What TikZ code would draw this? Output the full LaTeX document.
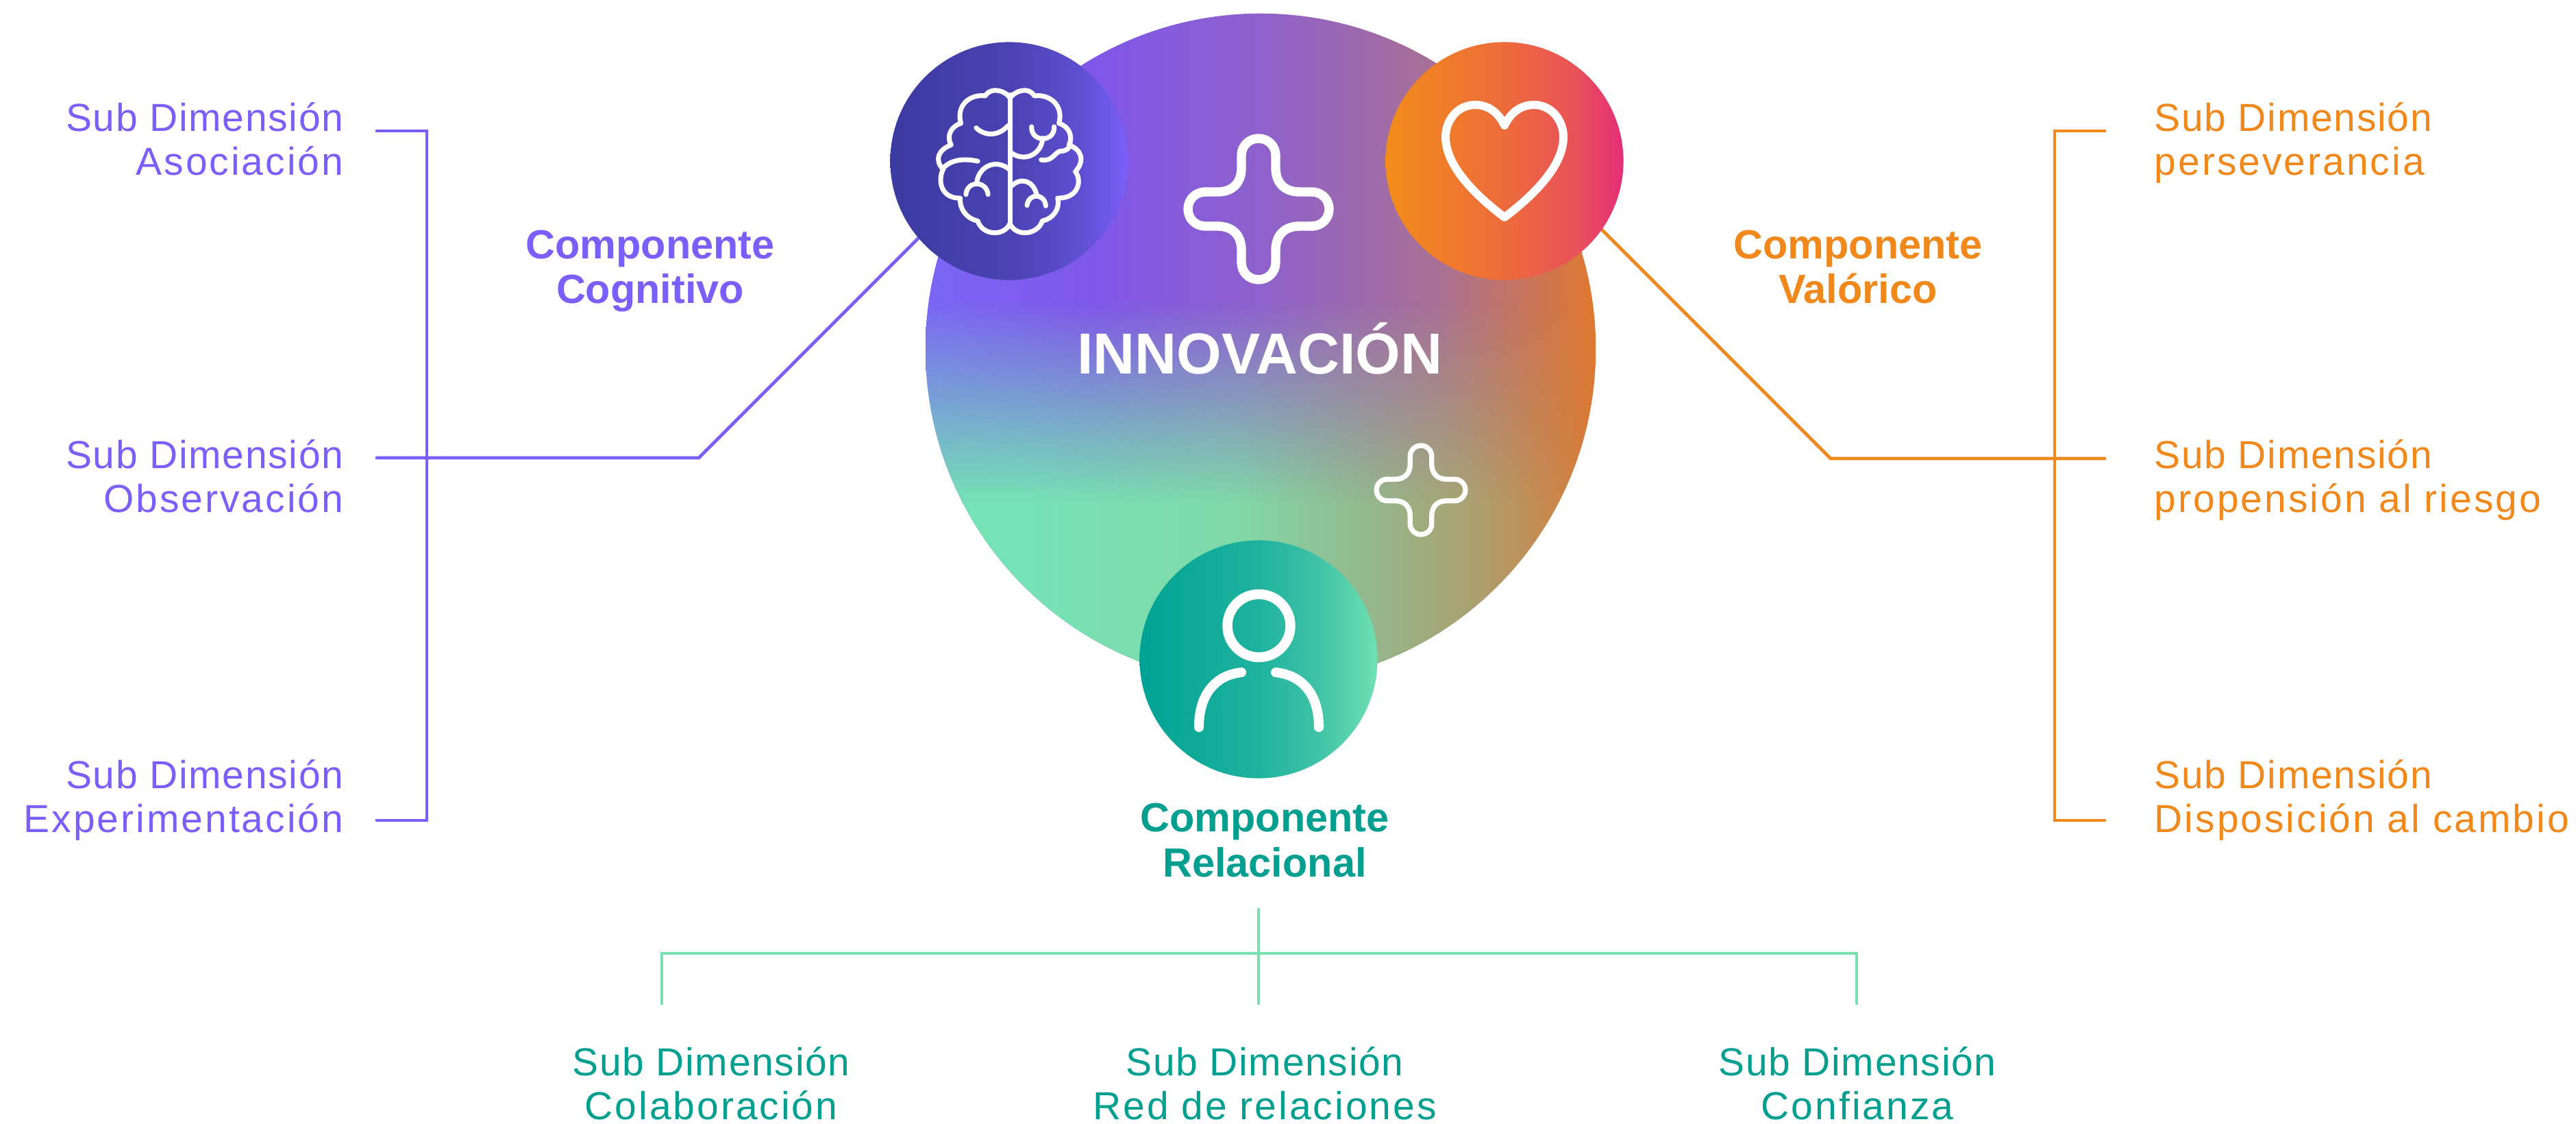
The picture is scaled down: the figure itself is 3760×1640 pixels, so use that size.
\documentclass[tikz,border=0pt]{standalone}
\usepackage{fontspec}
\setmainfont{Liberation Sans}
\newfontfamily\subfirst[LetterSpace=3]{Liberation Sans}
\newfontfamily\subsecond[LetterSpace=5.3]{Liberation Sans}
\usetikzlibrary{positioning,fadings}

\definecolor{cogcolor}{HTML}{7B5FFA}
\definecolor{valcolor}{HTML}{F0881B}
\definecolor{relcolor}{HTML}{009F8F}
\definecolor{relline}{HTML}{7BE0B0}

\pgfdeclarehorizontalshading{innotop}{100bp}{
  color(0bp)=(cogcolor); rgb(25bp)=(.48,.40,.96); rgb(37.75bp)=(.50,.34,.91);
  rgb(50bp)=(.56,.38,.80); rgb(63.3bp)=(.66,.44,.58); rgb(75bp)=(.88,.47,.18); rgb(100bp)=(.88,.47,.18)}
\pgfdeclarehorizontalshading{innolow}{100bp}{
  rgb(0bp)=(.46,.88,.72); rgb(32.7bp)=(.46,.89,.71); rgb(48bp)=(.50,.85,.66);
  rgb(58.2bp)=(.58,.72,.55); rgb(65.8bp)=(.67,.63,.44); rgb(75bp)=(.85,.48,.22); rgb(100bp)=(.85,.48,.22)}
\pgfdeclareverticalshading{innoramp}{100bp}{
  color(0bp)=(white); color(38.5bp)=(white); color(53.5bp)=(black); color(100bp)=(black)}
\pgfdeclarefading{innofade}{\pgfuseshading{innoramp}}

\pgfdeclarehorizontalshading{brainshade}{100bp}{
  rgb(0bp)=(.23,.23,.63); rgb(25bp)=(.23,.23,.63); rgb(50bp)=(.29,.26,.70);
  rgb(65bp)=(.37,.31,.82); rgb(75bp)=(.48,.37,.98); rgb(100bp)=(.48,.37,.98)}
\pgfdeclarehorizontalshading{heartshade}{100bp}{
  rgb(0bp)=(.95,.55,.10); rgb(25bp)=(.95,.55,.10); rgb(50bp)=(.93,.42,.23);
  rgb(65bp)=(.91,.32,.35); rgb(75bp)=(.90,.18,.47); rgb(100bp)=(.90,.18,.47)}
\pgfdeclarehorizontalshading{personshade}{100bp}{
  rgb(0bp)=(0,.635,.58); rgb(25bp)=(0,.635,.58); rgb(50bp)=(.12,.70,.62);
  rgb(62bp)=(.24,.76,.65); rgb(75bp)=(.44,.88,.70); rgb(100bp)=(.44,.88,.70)}

\newcommand{\subtext}[1]{{\subfirst Sub Dimensión}\\{\subsecond #1}}

\tikzset{
  compcircle/.style={circle,minimum size=3.47cm,inner sep=0pt},
  iconline/.style={draw=white,line cap=round,line join=round},
  cogwire/.style={draw=cogcolor,line width=1.35pt,line cap=round},
  valwire/.style={draw=valcolor,line width=1.35pt,line cap=round},
  relwire/.style={draw=relline,line width=1.35pt,line cap=round},
  sublabel/.style={inner sep=0pt,font=\fontsize{16.2pt}{18.2pt}\selectfont},
  complabel/.style={inner sep=0pt,align=center,anchor=base,font=\fontsize{16.9pt}{18.7pt}\selectfont\bfseries},
  plusicon/.pic={
    \foreach \r in {0,90,180,270}{
      \draw[iconline,rotate=\r] (25,-78) .. controls (25,-92) and (14,-103) .. (0,-103)
        .. controls (-14,-103) and (-25,-92) .. (-25,-78) -- (-25,-60)
        .. controls (-25,-38) and (-38,-25) .. (-60,-25) -- (-78,-25);
    }
  }
}

\begin{document}
\begin{tikzpicture}[x=0.01cm,y=-0.01cm]
  \useasboundingbox (0,0) rectangle (3760,1640);

  % free ends of the connectors
  \coordinate (cogA) at (550,191);
  \coordinate (cogB) at (550,668);
  \coordinate (cogC) at (550,1197);
  \coordinate (cogbar) at (623,668);
  \coordinate (cogelbow) at (1020,668);
  \coordinate (cogtip) at (1360,328);
  \coordinate (valA) at (3072,191);
  \coordinate (valB) at (3072,669);
  \coordinate (valC) at (3072,1197);
  \coordinate (valbar) at (2999,669);
  \coordinate (valelbow) at (2672,669);
  \coordinate (valtip) at (2320,317);
  \coordinate (reltop) at (1837,1327);
  \coordinate (relmid) at (1837,1391);
  \coordinate (relbot) at (1837,1464);
  \coordinate (relA) at (966,1464);
  \coordinate (relC) at (2710,1464);

  \draw[cogwire] (cogA) -| (cogbar) |- (cogC);
  \draw[cogwire] (cogB) -- (cogelbow) -- (cogtip);
  \draw[valwire] (valA) -| (valbar) |- (valC);
  \draw[valwire] (valB) -- (valelbow) -- (valtip);
  \draw[relwire] (reltop) -- (relbot);
  \draw[relwire] (relA) |- (relmid) -| (relC);

  % big circle
  \node[circle,minimum size=9.78cm,inner sep=0pt,path picture={
    \shade[shading=innotop] (-489,-489) rectangle (489,489);
    \shade[shading=innolow,path fading=innofade] (-489,-489) rectangle (489,489);
  }] (inno) at (1840,509) {};
  \node[inner sep=0pt,anchor=base,text=white,font=\fontsize{24pt}{26pt}\selectfont\bfseries] (innotext) at (1839,546) {INNOVACIÓN};
  \pic[line width=3.8pt] at (1837,305) {plusicon};
  \pic[line width=2.1pt,scale=.63] at (2074,715) {plusicon};

  % component circles
  \node[compcircle,shading=brainshade,shade] (brain) at (1473,235) {};
  \node[compcircle,shading=heartshade,shade] (heart) at (2196,235) {};
  \node[compcircle,shading=personshade,shade] (person) at (1837,962) {};

  % brain icon
  \begin{scope}[shift={(1340,130)},x=0.00333cm,y=-0.00333cm,line width=2pt]
    \draw[iconline] (403,25) -- (403,590);
    \draw[iconline] (403,40) .. controls (390,10) and (320,-15) .. (295,30)
      .. controls (230,20) and (165,70) .. (188,150)
      .. controls (140,165) and (125,210) .. (145,245)
      .. controls (90,265) and (70,310) .. (110,352)
      .. controls (85,400) and (100,480) .. (185,478)
      .. controls (180,525) and (215,570) .. (262,578)
      .. controls (280,640) and (375,650) .. (403,590);
    \draw[iconline] (403,40) .. controls (420,10) and (485,-15) .. (510,30)
      .. controls (575,20) and (640,70) .. (618,150)
      .. controls (665,165) and (680,210) .. (662,245)
      .. controls (715,265) and (735,310) .. (690,362)
      .. controls (720,400) and (705,480) .. (612,478)
      .. controls (625,525) and (590,570) .. (545,578)
      .. controls (525,640) and (430,650) .. (403,590);
    \draw[iconline] (255,170) .. controls (290,205) and (350,210) .. (395,160);
    \draw[iconline] (112,345) .. controls (150,305) and (210,305) .. (262,316);
    \draw[iconline] (258,405) .. controls (270,335) and (345,305) .. (400,352);
    \draw[iconline] (210,462) .. controls (215,400) and (300,400) .. (307,462);
    \draw[iconline] (498,165) .. controls (495,235) and (600,235) .. (597,165);
    \draw[iconline] (547,215) .. controls (540,290) and (465,320) .. (410,280);
    \draw[iconline] (540,310) .. controls (590,320) and (600,275) .. (625,272)
      .. controls (650,272) and (665,260) .. (668,240);
    \draw[iconline] (410,425) .. controls (450,385) and (505,400) .. (520,462);
    \draw[iconline] (478,510) .. controls (485,455) and (555,455) .. (560,512);
  \end{scope}

  % heart icon
  \draw[iconline,line width=3.4pt] (2196,183) .. controls (2187,164) and (2172,153) .. (2153,153)
    .. controls (2128,153) and (2110,175) .. (2110,200)
    .. controls (2110,245) and (2160,290) .. (2196,317)
    .. controls (2232,290) and (2282,245) .. (2282,200)
    .. controls (2282,175) and (2264,153) .. (2239,153)
    .. controls (2220,153) and (2205,164) .. (2196,183);

  % person icon
  \draw[iconline,line width=4.1pt] (1837.5,913) circle (46);
  \draw[iconline,line width=4pt] (1812,981) .. controls (1775,985) and (1750,1012) .. (1750,1061);
  \draw[iconline,line width=4pt] (1862,981) .. controls (1900,985) and (1925,1012) .. (1925,1061);

  % labels
  \node[complabel,text=cogcolor] (coglabel) at (949,443) {Componente\\Cognitivo};
  \node[complabel,text=valcolor] (vallabel) at (2712,443) {Componente\\Valórico};
  \node[complabel,text=relcolor] (rellabel) at (1846,1279) {Componente\\Relacional};

  \foreach \nm/\y/\txt in {asociacion/256/Asociación,observacion/748/Observación,experimentacion/1214/Experimentación}
    \node[sublabel,align=right,anchor=base east,text=cogcolor] (\nm) at (502,\y) {\subtext{\txt}};
  \foreach \nm/\y/\txt in {perseverancia/256/perseverancia,propension/748/propensión al riesgo,disposicion/1214/Disposición al cambio}
    \node[sublabel,align=left,anchor=base west,text=valcolor] (\nm) at (3144,\y) {\subtext{\txt}};
  \foreach \nm/\x/\txt in {colaboracion/1038/Colaboración,red/1846/Red de relaciones,confianza/2711/Confianza}
    \node[sublabel,align=center,anchor=base,text=relcolor] (\nm) at (\x,1633) {\subtext{\txt}};
\end{tikzpicture}
\end{document}
